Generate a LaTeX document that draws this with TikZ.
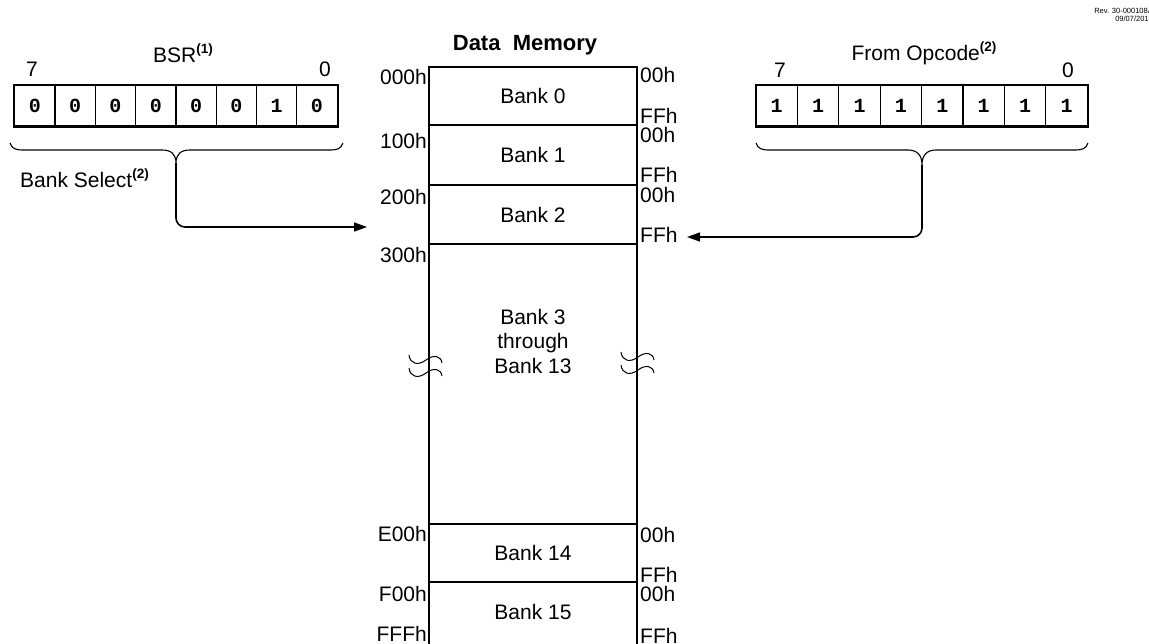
\documentclass[tikz,border=0pt]{standalone}
\usepackage{fontspec}
\setmainfont{Liberation Sans}
\newfontfamily\monob{Liberation Mono}
\usetikzlibrary{arrows.meta}
\tikzset{
  txt/.style={inner sep=0pt, font=\fontsize{21}{24.5}\selectfont},
  bank/.style={draw, line width=1.6pt, minimum width=208pt, inner sep=0pt, font=\fontsize{21}{24.5}\selectfont},
  cell/.style={draw, line width=1.2pt, minimum height=41pt, inner sep=0pt, font=\monob\bfseries\fontsize{20}{24}\selectfont},
  brace/.style={line width=1.1pt},
  conn/.style={line width=1.6pt, rounded corners=9pt, -{Triangle[length=13pt,width=9pt]}},
  squig/.style={line width=1pt},
}
\newcommand{\supb}[1]{\raisebox{0.42em}{\fontsize{13.5}{14}\selectfont\bfseries #1}}
\begin{document}
\begin{tikzpicture}[x=1pt,y=-1pt]
\useasboundingbox (0,0) rectangle (1149,643);
\fill[white] (0,0) rectangle (1149,643);

% revision note
\node[inner sep=0pt, anchor=north east, align=right, font=\fontsize{7.5}{8.5}\selectfont] (rev) at (1153,8) {Rev. 30-000108A\\09/07/2017};

% title
\node[txt, font=\bfseries\fontsize{22}{26}\selectfont] (title) at (525,45) {Data\ \ Memory};

% memory banks
\node[bank, minimum height=58pt] (b0) at (533,96) {Bank 0};
\node[bank, minimum height=60pt] (b1) at (533,155) {Bank 1};
\node[bank, minimum height=59pt] (b2) at (533,214.5) {Bank 2};
\node[bank, minimum height=280pt] (b3) at (533,384) {};
\node[txt, align=center] (b3t) at (533,341) {Bank 3\\through\\Bank 13};
\node[bank, minimum height=58pt] (b14) at (533,553) {Bank 14};
\node[bank, minimum height=64pt] (b15) at (533,614) {};
\node[txt] (b15t) at (533,612) {Bank 15};

% left address labels
\node[txt, anchor=east] (a0) at (427,77) {000h};
\node[txt, anchor=east] (a1) at (427,141) {100h};
\node[txt, anchor=east] (a2) at (427,197) {200h};
\node[txt, anchor=east] (a3) at (427,255) {300h};
\node[txt, anchor=east] (a14) at (427,534) {E00h};
\node[txt, anchor=east] (a15) at (427,594) {F00h};
\node[txt, anchor=east] (aend) at (427,634) {FFFh};

% right offset labels
\node[txt, anchor=west] (s0) at (640,75) {00h};
\node[txt, anchor=west] (e0) at (640,116) {FFh};
\node[txt, anchor=west] (s1) at (640,135) {00h};
\node[txt, anchor=west] (e1) at (640,175) {FFh};
\node[txt, anchor=west] (s2) at (640,195) {00h};
\node[txt, anchor=west] (e2) at (640,235) {FFh};
\node[txt, anchor=west] (s14) at (640,535) {00h};
\node[txt, anchor=west] (e14) at (640,575) {FFh};
\node[txt, anchor=west] (s15) at (640,594) {00h};
\node[txt, anchor=west] (e15) at (640,636) {FFh};

% break marks
\foreach \dx/\dy in {0/0, 0/13, 212/-3, 212/10}
  \draw[squig, shift={(\dx,\dy)}] (409,355) .. controls (410,364) and (418,366) .. (426,360)
    .. controls (434,354) and (441,356) .. (442,363);

% BSR register
\node[txt] (bsrlbl) at (183,53) {BSR\supb{(1)}};
\node[txt] (bsr7) at (32,69) {7};
\node[txt] (bsr0) at (325,69) {0};
\foreach \b [count=\i] in {0,0,0,0,0,0,1,0}
  \node[cell, minimum width=40.3pt] (bsr\i) at ({14.7+40.3*(\i-0.5)},105.5) {\b};
\draw[line width=1.8pt] (bsr1.north west) rectangle (bsr8.south east);
\draw[brace] (10,143) .. controls (12,149) and (16,150) .. (24,150) -- (162,150)
  .. controls (171,150) and (176,154) .. (176,163)
  .. controls (176,154) and (181,150) .. (190,150) -- (329,150)
  .. controls (337,150) and (341,149) .. (343,143);
\coordinate (bsrtip) at (176,163);
\node[txt, anchor=west] (bsel) at (20,178) {Bank Select\supb{(2)}};
\coordinate (selend) at (367,227);
\draw[conn] (bsrtip) |- (selend);

% Opcode register
\node[txt] (opclbl) at (924,53) {From Opcode\supb{(2)}};
\node[txt] (opc7) at (780,70) {7};
\node[txt] (opc0) at (1068,70) {0};
\foreach \b [count=\i] in {1,1,1,1,1,1,1,1}
  \node[cell, minimum width=41.4pt] (opc\i) at ({756+41.4*(\i-0.5)},105.5) {\b};
\draw[line width=1.8pt] (opc1.north west) rectangle (opc8.south east);
\draw[brace] (756,143) .. controls (758,149) and (762,150) .. (770,150) -- (908,150)
  .. controls (917,150) and (922,155) .. (922,165)
  .. controls (922,155) and (927,150) .. (936,150) -- (1074,150)
  .. controls (1082,150) and (1086,149) .. (1088,143);
\coordinate (opctip) at (922,165);
\coordinate (opcend) at (687,237);
\draw[conn] (opctip) |- (opcend);
\end{tikzpicture}
\end{document}
